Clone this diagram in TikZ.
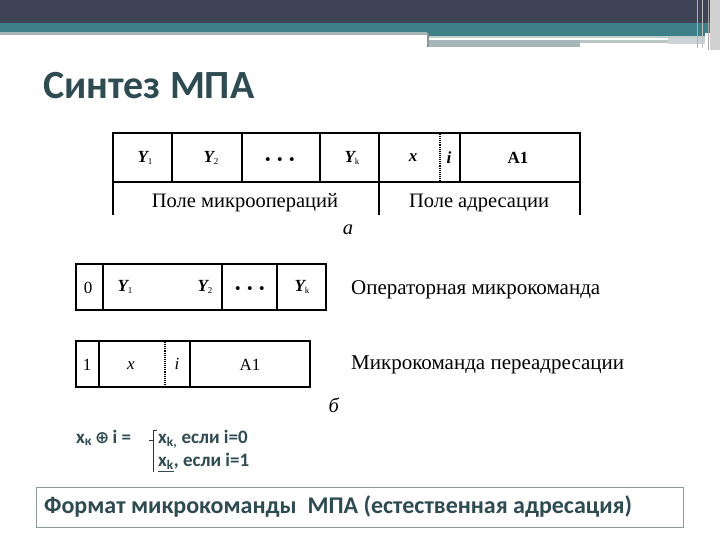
\documentclass[tikz,border=0pt]{standalone}
\usepackage{fontspec}
\setmainfont{Liberation Serif}
\newfontfamily\carl{Carlito}
\newfontfamily\djv{DejaVu Sans}
\definecolor{darkbar}{HTML}{3E4455}
\definecolor{tealbar}{HTML}{3D7F86}
\definecolor{greyline}{HTML}{A7B6B9}
\definecolor{slatetext}{HTML}{2E4B52}
\definecolor{boxgrey}{HTML}{8C9A9C}
\newcommand{\Yv}[1]{{\bfseries\itshape Y}\raisebox{-0.35ex}{\fontsize{9}{9}\selectfont #1}}
\newcommand{\Dots}{{\fontsize{24}{24}\selectfont\bfseries ·\,·\,·}}
\tikzset{
  cellline/.style={line width=1.5pt, black},
  dotline/.style={line width=1.1pt, densely dotted, black},
  celltxt/.style={inner sep=0pt, font=\fontsize{17}{17}\selectfont},
  fieldtxt/.style={inner sep=0pt, font=\fontsize{20.5}{20.5}\selectfont},
  sidetxt/.style={inner sep=0pt, anchor=west, font=\fontsize{21}{21}\selectfont},
  formtxt/.style={inner sep=0pt, anchor=base west, text=slatetext, font=\carl\bfseries\fontsize{19}{19}\selectfont},
}
\begin{document}
\begin{tikzpicture}[x=1pt,y=-1pt]
\useasboundingbox (0,0) rectangle (720,540);
\fill[white] (0,0) rectangle (720,540);
% header decoration
\fill[darkbar] (0,0) rectangle (720,23);
\fill[tealbar] (0,23) rectangle (710,33);
\fill[greyline] (0,32) rectangle (427,35.5);
\fill[tealbar] (427,33) rectangle (705,36);
\fill[greyline!70] (427,36) rectangle (705,38);
\fill[greyline] (427,40.5) rectangle (580,47);
\fill[greyline!80] (580,40.5) rectangle (668,43);
\fill[greyline!60] (668,38) rectangle (705,44);
\fill[greyline!70!darkbar] (427,33) rectangle (429,47);
\fill[gray!35] (710,0) rectangle (720,50);
\draw[gray!60, line width=1pt] (697,0) -- (697,48);
\draw[gray!50, line width=1pt] (702,0) -- (702,48);
\draw[gray!70, line width=1pt] (708,0) -- (708,50);
% title
\node[anchor=base west, inner sep=0pt, text=slatetext, font=\carl\bfseries\fontsize{40}{40}\selectfont] (title) at (43,99) {Синтез МПА};
% ---- diagram a ----
\draw[cellline] (113,133) rectangle (580,182);
\foreach \xx in {172,242,320,379,460} \draw[cellline] (\xx,133) -- (\xx,182);
\draw[dotline] (440,134) -- (440,181);
\draw[cellline] (113,182) -- (113,215);
\draw[cellline] (379,182) -- (379,215);
\draw[cellline] (580,182) -- (580,215);
\node[celltxt] (ay1) at (145,158) {\Yv{1}};
\node[celltxt] (ay2) at (211,158) {\Yv{2}};
\node[celltxt] (adots) at (280,163) {\Dots};
\node[celltxt] (ayk) at (352,158) {\Yv{k}};
\node[celltxt] (ax) at (413,158) {\textbf{\textit{x}}};
\node[celltxt] (ai) at (449,158) {\textbf{\textit{i}}};
\node[celltxt] (aa1) at (518,158) {\textbf{A1}};
\node[fieldtxt] (afield1) at (245,203) {Поле микроопераций};
\node[fieldtxt] (afield2) at (479,203) {Поле адресации};
\node[fieldtxt] (alabel) at (348,230) {\textit{а}};
% ---- diagram b ----
\draw[cellline] (76,264) rectangle (326,310);
\foreach \xx in {103,222,277} \draw[cellline] (\xx,264) -- (\xx,310);
\node[celltxt] (b0) at (88,288) {0};
\node[celltxt] (by1) at (125,287) {\Yv{1}};
\node[celltxt] (by2) at (205,287) {\Yv{2}};
\node[celltxt] (bdots) at (250,292) {\Dots};
\node[celltxt] (byk) at (302,287) {\Yv{k}};
\node[sidetxt] (bop) at (351,290) {Операторная микрокоманда};
\draw[cellline] (76,341) rectangle (310,387);
\foreach \xx in {99,190} \draw[cellline] (\xx,341) -- (\xx,387);
\draw[dotline] (165,342) -- (165,386);
\node[celltxt] (b1) at (87,365) {1};
\node[celltxt] (bx) at (131,366) {\textit{x}};
\node[celltxt] (bi) at (177,364) {\textit{i}};
\node[celltxt] (ba1) at (250,365) {A1};
\node[sidetxt] (bre) at (351,365) {Микрокоманда переадресации};
\node[fieldtxt] (blabel) at (334,405) {\textit{б}};
% ---- formula ----
\node[formtxt] (flhs) at (76,443) {x\textsubscript{к}\,{\djv\bfseries\fontsize{17}{17}\selectfont ⊕}\,i =};
\draw[black!80, line width=1pt] (157,430) -- (153,430) -- (153,472);
\draw[black!80, line width=0.8pt] (149,440) -- (153,440);
\node[formtxt] (fl1) at (158,443) {x\textsubscript{k,} если i=0};
\node[formtxt] (fl2) at (158,466) {\underline{x\textsubscript{k}}, если i=1};
% ---- bottom caption ----
\draw[boxgrey, line width=0.8pt] (36,487) rectangle (683,527);
\node[anchor=west, inner sep=0pt, text=slatetext, font=\carl\bfseries\fontsize{24}{24}\selectfont] (caption) at (44,507) {Формат микрокоманды\ \ МПА (естественная адресация)};
\end{tikzpicture}
\end{document}
